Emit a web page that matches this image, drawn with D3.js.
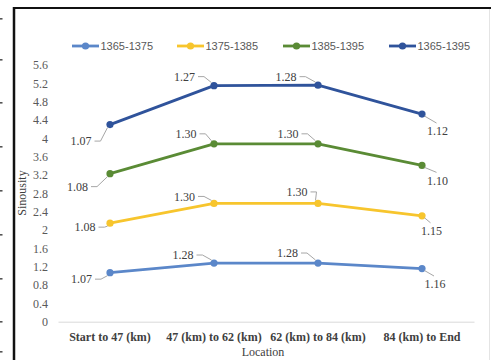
<!DOCTYPE html>
<html>
<head>
<meta charset="utf-8">
<script src="https://cdn.jsdelivr.net/npm/d3@7"></script>
<style>
  html, body { margin: 0; padding: 0; background: #fff; }
  svg { display: block; }
</style>
</head>
<body>
<svg id="chart" width="491" height="360"></svg>
<script>
// Locations along the river and the sinuosity of each period (stacked)
const categories = ["Start to 47 (km)", "47 (km) to 62 (km)", "62 (km) to 84 (km)", "84 (km) to End"];
const seriesNames = ["1365-1375", "1375-1385", "1385-1395", "1365-1395"];
const s1365_1375 = [1.07, 1.28, 1.28, 1.16];
const s1375_1385 = [1.08, 1.30, 1.30, 1.15];
const s1385_1395 = [1.08, 1.30, 1.30, 1.10];
const s1365_1395 = [1.07, 1.27, 1.28, 1.12];
const yTickLabels = ["0", "0.4", "0.8", "1.2", "1.6", "2", "2.4", "2.8", "3.2", "3.6", "4", "4.4", "4.8", "5.2", "5.6"];

const seriesValues = [s1365_1375, s1375_1385, s1385_1395, s1365_1395];
const colors = ["#5B87C9", "#F7C52D", "#5A8B35", "#2F539B"];

// Offsets of each data label's centre from its marker, per series and point
const labelOffsets = [
  [[-28.5, 6.5], [-31, -8], [-30.5, -10], [13, 15.5]],
  [[-25, 4], [-29.5, -7], [-21, -11.5], [9.5, 15]],
  [[-32.5, 13], [-28, -10], [-30, -10], [15.5, 15]],
  [[-29, 16.5], [-29.5, -9], [-32, -8.5], [15.5, 17]]
];

const table = categories.map((c, i) => {
  const row = { category: c };
  seriesNames.forEach((s, k) => { row[s] = seriesValues[k][i]; });
  return row;
});
const stacked = d3.stack().keys(seriesNames)(table);

const svg = d3.select("#chart");
const serif = "'Liberation Serif', 'Times New Roman', serif";
const sans = "'Liberation Sans', Arial, sans-serif";

// Frame
svg.append("line").attr("x1", 14).attr("x2", 14).attr("y1", 7).attr("y2", 360)
  .attr("stroke", "#111").attr("stroke-width", 2.5);
svg.append("line").attr("x1", 13).attr("x2", 491).attr("y1", 8).attr("y2", 8)
  .attr("stroke", "#111").attr("stroke-width", 2);
svg.append("line").attr("x1", 489.5).attr("x2", 489.5).attr("y1", 9).attr("y2", 360)
  .attr("stroke", "#e4e4e4").attr("stroke-width", 1);
// small marks at the far left edge
[18, 59, 102, 146, 190, 234, 278, 321, 351].forEach(y => {
  svg.append("rect").attr("x", 0).attr("y", y).attr("width", 2.5).attr("height", 1.6).attr("fill", "#555");
});

const x = d3.scaleBand().domain(categories).range([58, 474]);
const cx = c => x(c) + x.bandwidth() / 2;
const y = d3.scaleLinear().domain([0, 5.6]).range([321.7, 65]);

// Y axis labels
const yAxis = svg.append("g").attr("transform", "translate(48,0)")
  .call(d3.axisLeft(y).tickValues(yTickLabels.map(Number)).tickSize(0).tickPadding(0)
    .tickFormat((d, i) => yTickLabels[i]));
yAxis.select(".domain").remove();
yAxis.selectAll("text").attr("font-family", serif).attr("font-size", 12).attr("fill", "#595959");

// Baseline and category labels
const xAxis = svg.append("g").attr("transform", "translate(0,321.7)")
  .call(d3.axisBottom(x).tickSize(0).tickPadding(10.5));
xAxis.select(".domain").attr("stroke", "#d9d9d9").attr("stroke-width", 1);
xAxis.selectAll("text").attr("font-family", serif).attr("font-size", 12)
  .attr("font-weight", "bold").attr("fill", "#404040");

// Axis titles
svg.append("text").attr("x", 263).attr("y", 356).attr("text-anchor", "middle")
  .attr("font-family", serif).attr("font-size", 12).attr("fill", "#404040").text("Location");
svg.append("text").attr("transform", "translate(26,193) rotate(-90)").attr("text-anchor", "middle")
  .attr("font-family", serif).attr("font-size", 12).attr("fill", "#404040").text("Sinousity");

// Lines and markers
const line = d3.line().x(d => cx(d.data.category)).y(d => y(d[1]));
stacked.forEach((layer, k) => {
  svg.append("path").datum(layer).attr("d", line)
    .attr("fill", "none").attr("stroke", colors[k]).attr("stroke-width", 2.8)
    .attr("stroke-linejoin", "round").attr("stroke-linecap", "round");
  svg.selectAll(null).data(layer).enter().append("circle")
    .attr("cx", d => cx(d.data.category)).attr("cy", d => y(d[1]))
    .attr("r", 3.6).attr("fill", colors[k]);
});

// Data labels with leader lines
stacked.forEach((layer, k) => {
  layer.forEach((d, i) => {
    const px = cx(d.data.category), py = y(d[1]);
    const [dx, dy] = labelOffsets[k][i];
    const tx = px + dx, ty = py + dy;
    const value = seriesValues[k][i];
    const label = svg.append("text").attr("x", tx).attr("y", ty).attr("dy", "0.35em")
      .attr("text-anchor", "middle").attr("font-family", serif).attr("font-size", 12)
      .attr("fill", "#404040").text(value.toFixed(2));
    const w = label.node().getComputedTextLength();
    let p;
    if (dx < 0) {
      const sx = tx + w / 2 + 3;
      const ey = dy < 0 ? py - 3 : py + 3;
      p = `M${sx},${ty} H${sx + 6} L${px - 2.5},${ey}`;
    } else {
      p = `M${px + 2.5},${py + 2} L${tx - 1},${ty - 8}`;
    }
    svg.append("path").attr("d", p).attr("fill", "none")
      .attr("stroke", "#a6a6a6").attr("stroke-width", 1);
  });
});

// Legend
const legendX = [72, 177, 283, 389];
seriesNames.forEach((name, k) => {
  const g = svg.append("g").attr("transform", `translate(${legendX[k]},46)`);
  g.append("line").attr("x1", 0).attr("x2", 27).attr("y1", 0).attr("y2", 0)
    .attr("stroke", colors[k]).attr("stroke-width", 2.8);
  g.append("circle").attr("cx", 13.5).attr("cy", 0).attr("r", 3.6).attr("fill", colors[k]);
  g.append("text").attr("x", 28.5).attr("y", 0).attr("dy", "0.35em")
    .attr("font-family", sans).attr("font-size", 11).attr("fill", "#595959").text(name);
});
</script>
</body>
</html>
